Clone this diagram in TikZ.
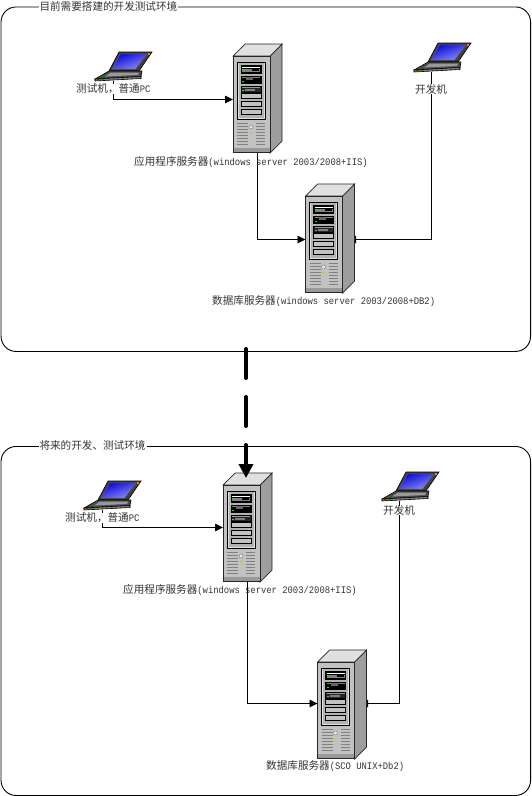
\documentclass[tikz,border=0pt]{standalone}
\usepackage{fontspec}
\newfontfamily\zhfont{Noto Sans CJK SC}
\newfontfamily\lafont[FakeStretch=0.885]{Liberation Mono}
\newcommand{\zh}[1]{{\fontsize{10.6pt}{11pt}\zhfont #1}}
\newcommand{\la}[1]{{\fontsize{10pt}{11pt}\lafont #1}}
\usetikzlibrary{arrows.meta}
\definecolor{scrA}{HTML}{0A0AD2}
\definecolor{scrB}{HTML}{8C8CFF}
\tikzset{
  frame/.style={draw=black,line width=0.9pt,rounded corners=15pt,inner sep=0pt,anchor=north west},
  framelabel/.style={fill=white,inner sep=0pt,outer sep=0pt,anchor=west,text=black!80,minimum height=9pt,inner xsep=1pt},
  lbl/.style={inner sep=0pt,anchor=west,text=black!80},
  laplbl/.style={lbl,fill=white},
  conn/.style={draw=black,line width=0.9pt,-{Triangle[length=8pt,width=7.5pt]}},
  pin/.style={inner sep=0pt,minimum width=37pt,minimum height=96pt,anchor=north west},
  lappin/.style={inner sep=0pt,minimum width=57pt,minimum height=29pt,anchor=north west},
  bigarrow/.style={draw=black,line width=4pt,line cap=round,dash pattern=on 29pt off 19pt,-{Triangle[length=14pt,width=14pt]}},
  edge/.style={draw=black!85,line width=0.7pt}
}
\newcommand{\serverart}[2]{%
\begin{scope}[shift={(#1,#2)}]
  \fill[black!38,edge] (37,0) -- (49,-12) -- (49,85) -- (37,97) -- cycle;
  \fill[black!12,edge] (0,0) -- (12,-12) -- (49,-12) -- (37,0) -- cycle;
  \fill[black!24,edge] (0,0) rectangle (37,96);
  \fill[black!40] (0.5,92) rectangle (36.5,95.5);
  \fill[black!12,draw=black,line width=1pt] (4,6) rectangle (32,63);
  \fill[black!30] (5.5,7) rectangle (30.5,62);
  \fill[black,draw=black] (8,9) rectangle (28,17);
  \fill[white] (9,10.5) rectangle (27,12);
  \fill[black!50] (9,12.5) rectangle (27,15.5);
  \fill[green] (9,12.5) rectangle (11.5,13.5);
  \fill[black] (19,12) rectangle (26,15);
  \fill[black,draw=black] (8,20) rectangle (28,27);
  \fill[black!50] (9,21) rectangle (27,22);
  \fill[black!60] (13,21) rectangle (20,24);
  \fill[green] (9,25) rectangle (11,26);
  \fill[black!85,draw=black] (8,30) rectangle (28,36);
  \fill[black!40] (9,31) rectangle (27,32);
  \fill[black!50] (12,33) rectangle (22,35);
  \fill[green] (9,34) rectangle (11,35);
  \foreach \yy in {37.5,45.5,53.5}
    \fill[black!24,draw=black,line width=0.8pt] (8,\yy) rectangle (28,\yy+5);
  \foreach \yy in {67,70,73,76,79,82,85,88}{
    \fill[black!50] (4,\yy) rectangle (15,\yy+1.3);
    \fill[black!50] (23,\yy) rectangle (32,\yy+1.3);
  }
  \fill[black!8,draw=black!55,line width=0.4pt] (18,71) circle[radius=2pt];
  \fill[yellow!70!green] (18,77) circle[radius=1.1pt];
\end{scope}}
\newcommand{\laptopart}[2]{%
\begin{scope}[shift={(#1,#2)}]
  \fill[black!75,draw=black,line width=0.6pt] (24,0) -- (57,0) -- (44,19) -- (14,19) -- cycle;
  \shade[left color=scrA,right color=scrB,shading angle=20,draw=black!60,line width=0.3pt] (25.5,2) -- (52,2) -- (40.5,17) -- (17,17) -- cycle;
  \fill[orange] (52.5,0.8) rectangle (55,2.5);
  \fill[black!70,draw=black,line width=0.6pt] (14,19) -- (47,19) -- (46,24.5) -- (0,27) -- cycle;
  \fill[black!40] (16,20.5) -- (44,20.5) -- (43,23) -- (10,24.5) -- cycle;
  \fill[black!50,draw=black,line width=0.6pt] (0,27) -- (46,24.5) -- (46,26.5) -- (0,29) -- cycle;
  \fill[green!70!black] (4,27) rectangle (9,28);
  \fill[red!70!black] (2,27) rectangle (3.5,28);
\end{scope}}
\begin{document}
\begin{tikzpicture}[x=1pt,y=-1pt]
\useasboundingbox (0,0) rectangle (531,796);
% frames
\node[frame,minimum width=529.5pt,minimum height=344.5pt] (frameA) at (0.6,6.5) {};
\node[frame,minimum width=529.5pt,minimum height=349pt] (frameB) at (0.6,446) {};
\node[framelabel] (ftA) at (38.5,6.5) {\zh{目前需要搭建的开发测试环境}};
\node[framelabel] (ftB) at (38.5,445.5) {\zh{将来的开发、测试环境}};
% anchors of the devices
\node[pin] (srvA) at (233,56) {};
\node[pin] (srvB) at (305.5,196) {};
\node[pin] (srvC) at (223,485) {};
\node[pin] (srvD) at (317.5,662) {};
\node[lappin] (lapA) at (95,52) {};
\node[lappin] (lapB) at (414,43) {};
\node[lappin] (lapC) at (84,481) {};
\node[lappin] (lapD) at (382,472) {};
% connectors
\draw[conn] ([xshift=-10.5pt]lapA.south) |- (srvA.west |- 0,99.5);
\draw[conn] ([xshift=5.5pt]srvA.south) |- (srvB.west |- 0,239.5);
\draw[conn] ([xshift=-11.5pt]lapB.south) |- (348,239.5);
\draw[conn] ([xshift=-10.5pt]lapC.south) |- (srvC.west |- 0,527.5);
\draw[conn] ([xshift=5.5pt]srvC.south) |- (srvD.west |- 0,703.5);
\draw[conn] ([xshift=-11.5pt]lapD.south) |- (360,703.5);
% devices
\serverart{233}{56}
\serverart{305.5}{196}
\serverart{223}{485}
\serverart{317.5}{662}
\laptopart{95}{52}
\laptopart{414}{43}
\laptopart{84}{481}
\laptopart{382}{472}
% labels
\node[laplbl] (tA) at (76,89) {\zh{测试机，普通}\la{PC}};
\node[laplbl] (tB) at (415,89) {\zh{开发机}};
\node[laplbl] (tC) at (65,518) {\zh{测试机，普通}\la{PC}};
\node[laplbl] (tD) at (383,510.5) {\zh{开发机}};
\node[lbl] (sA) at (134,162.5) {\zh{应用程序服务器}\la{(windows server 2003/2008+IIS)}};
\node[lbl] (sB) at (212,301.5) {\zh{数据库服务器}\la{(windows server 2003/2008+DB2)}};
\node[lbl] (sC) at (123,590.5) {\zh{应用程序服务器}\la{(windows server 2003/2008+IIS)}};
\node[lbl] (sD) at (266,766.5) {\zh{数据库服务器}\la{(SCO UNIX+Db2)}};
% big dashed arrow
\coordinate (bigS) at (246,349);
\coordinate (bigE) at (246,478);
\draw[bigarrow] (bigS) -- (bigE);
\end{tikzpicture}
\end{document}
